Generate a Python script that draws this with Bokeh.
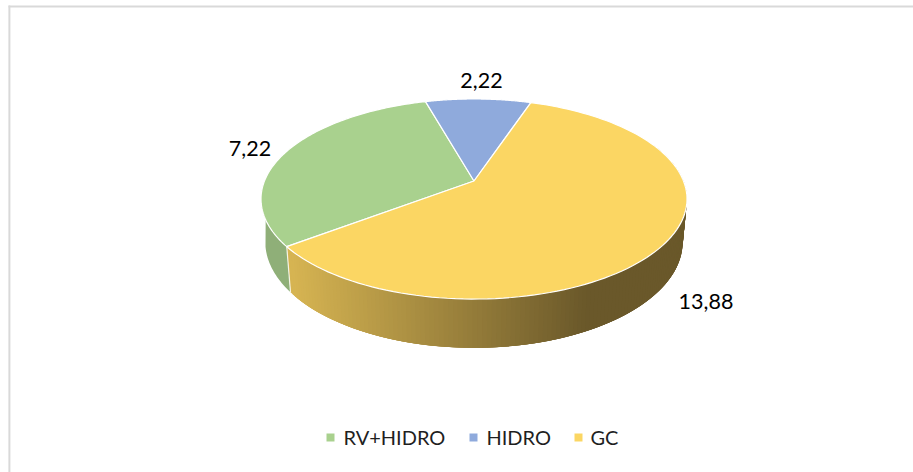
import numpy as np
from bokeh.plotting import figure
from bokeh.models import Range1d
from bokeh.core.properties import value
from bokeh.embed import file_html
from bokeh.resources import INLINE

categories = ["RV+HIDRO", "HIDRO", "GC"]
values = [7.22, 2.22, 13.88]
labels = ["7,22", "2,22", "13,88"]
colors = ["#A9D18E", "#8FAADC", "#FBD663"]
side_green = "#8FAF78"
side_dark = "#6A582A"
first_angle = 232.8

FONT = value("Lato")
CX, AY, A, B, K = 473.5, 180.5, 209.5, 96.8, 0.18
SX, SY, DEPTH = 0.98, 1.06, 41.7


def top(t):
    r = np.radians(t)
    w = 1 + K * np.cos(r)
    return CX + A * np.sin(r) / w, AY - B * np.cos(r) / w


def low(t):
    r = np.radians(t)
    w = 1 + K * np.cos(r)
    return CX + SX * A * np.sin(r) / w, AY + DEPTH - SY * B * np.cos(r) / w


def rgb(c):
    return "#%02x%02x%02x" % tuple(int(round(v)) for v in c)


def side_col(x):
    f = np.clip((x - 290) / (585 - 290), 0, 1)
    a, b = np.array([214, 180, 82.0]), np.array([106, 88, 42.0])
    return rgb(a + (b - a) * f)


p = figure(width=913, height=472, output_backend="svg", toolbar_location=None,
           x_range=Range1d(0, 913), y_range=Range1d(472, 0), min_border=0)
p.axis.visible = False
p.grid.visible = False
p.outline_line_color = None
p.background_fill_color = "white"

# chart frame: only its top and left edges are in view
p.multi_line([[8.9, 8.9], [8, 913]], [[5, 472], [5.9, 5.9]], line_color="#D9D9D9", line_width=2)

total = sum(values)
edges = first_angle + np.cumsum([0] + [v / total * 360 for v in values])

# green outer wall, with a straight tangent from the top rim to the lower rim
tx, ty = top(np.linspace(edges[0], 272, 30))
lx, ly = low(np.linspace(257, edges[0], 30))
p.patch(np.r_[tx, lx], np.r_[ty, ly], fill_color=side_green, line_color=None)

# yellow outer wall: overlapping strips, so the shading has no seams
ts = np.linspace(edges[3] - 360, 70, 150)
xs, ys, cs = [], [], []
for a, b in zip(ts[:-1], ts[1:]):
    b2 = b - 3 * (ts[0] - ts[1])
    xa, ya = top(np.array([a, b2]))
    xb, yb = low(np.array([b2, a]))
    xs.append(np.r_[xa, xb])
    ys.append(np.r_[ya, yb])
    cs.append(side_col(top(a)[0]))
p.patches(xs, ys, fill_color=cs, line_color=None)

# same tangent on the right-hand side
tx, ty = top(np.array([88.0]))
lx, ly = low(np.linspace(103, 70, 12))
p.patch(np.r_[tx, lx], np.r_[ty, ly], fill_color=side_dark, line_color=None)

# white seam between the two walls
sx0, sy0 = top(edges[0])
sx1, sy1 = low(edges[0])
p.line([sx0, sx1], [sy0, sy1], line_color="white", line_width=1.2, line_alpha=0.8)

# top faces
for i, c in enumerate(colors):
    t = np.linspace(edges[i], edges[i + 1], 120)
    x, y = top(t)
    p.patch(np.r_[CX, x], np.r_[AY, y], fill_color=c, line_color="white", line_width=1.2)

# data labels
p.text([249.5, 481, 705.5], [148, 80, 301], text=labels, text_font=FONT, text_font_size="21.5px",
       text_color="black", text_align="center", text_baseline="middle")

# legend
p.rect([330, 473, 578], [437, 437, 437], width=8, height=8, fill_color=colors, line_color=None)
p.text([343, 486, 590], [436.5, 436.5, 436.5], text=categories, text_font=FONT, text_font_size="20px",
       text_color="#1F1F1F", text_align="left", text_baseline="middle")

open("out.html", "w").write(file_html(p, INLINE))
